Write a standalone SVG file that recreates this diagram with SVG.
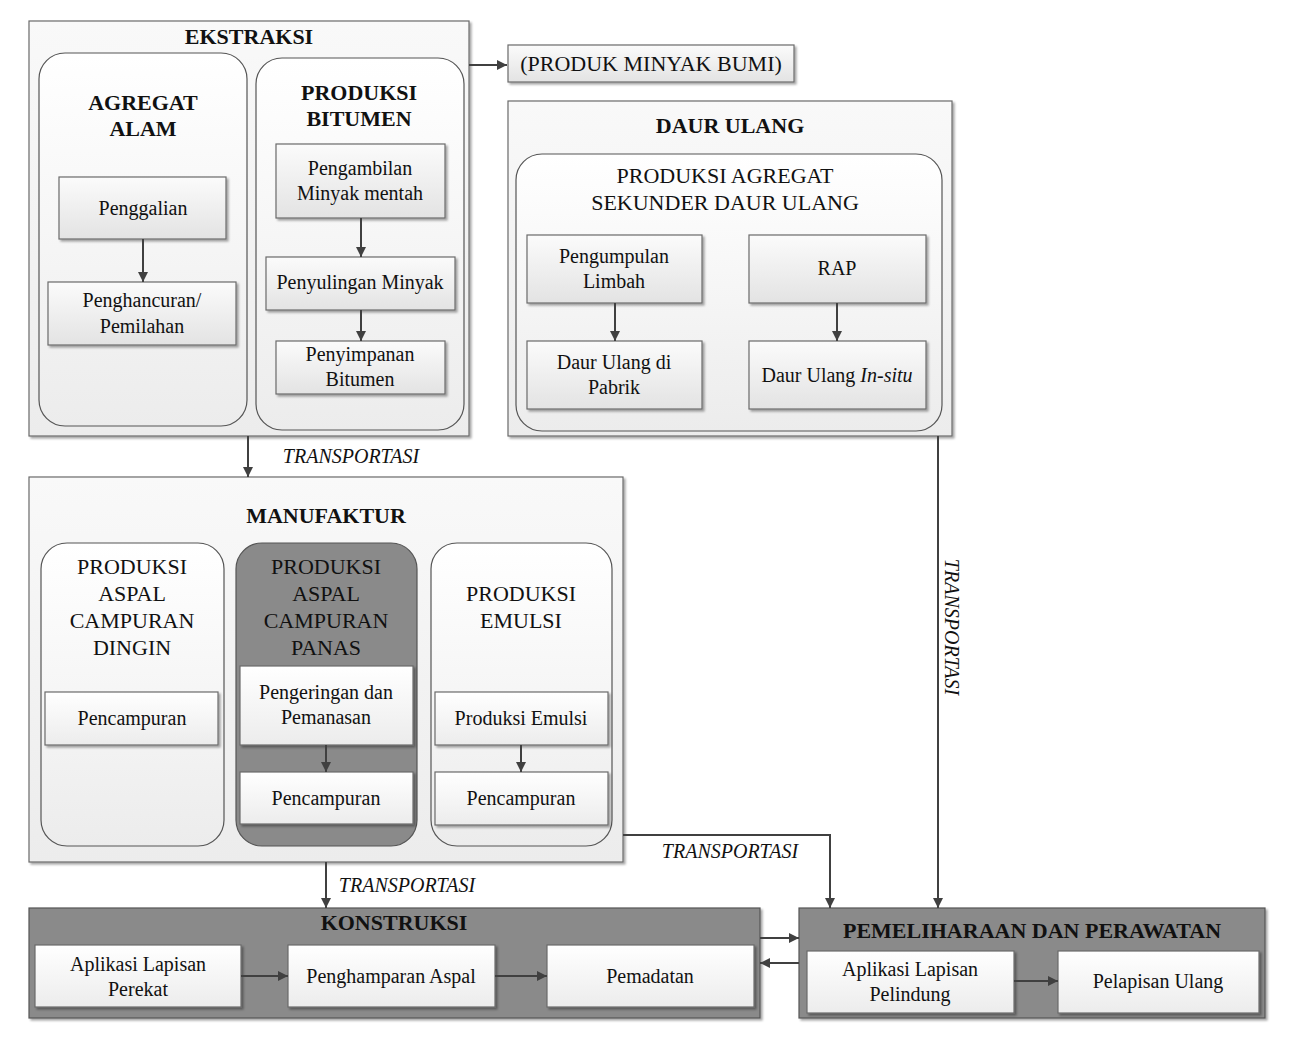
<svg xmlns="http://www.w3.org/2000/svg" width="1289" height="1046" viewBox="0 0 1289 1046">
<defs>
<linearGradient id="gFrame" x1="0" y1="0" x2="0" y2="1"><stop offset="0" stop-color="#f9f9f9"/><stop offset="1" stop-color="#ececec"/></linearGradient>
<linearGradient id="gRound" x1="0" y1="0" x2="0" y2="1"><stop offset="0" stop-color="#ffffff"/><stop offset="1" stop-color="#ececec"/></linearGradient>
<linearGradient id="gBox" x1="0" y1="0" x2="0" y2="1"><stop offset="0" stop-color="#fbfbfb"/><stop offset="1" stop-color="#e3e3e3"/></linearGradient>
<linearGradient id="gWhite" x1="0" y1="0" x2="0" y2="1"><stop offset="0" stop-color="#ffffff"/><stop offset="1" stop-color="#ececec"/></linearGradient>
<filter id="sh" x="-5%" y="-5%" width="115%" height="120%"><feDropShadow dx="2" dy="2" stdDeviation="1.2" flood-color="#000" flood-opacity="0.35"/></filter>
<marker id="ah" viewBox="0 0 10 10" refX="10" refY="5" markerWidth="10" markerHeight="10" markerUnits="userSpaceOnUse" orient="auto"><path d="M0,0 L10,5 L0,10 z" fill="#404040"/></marker>
</defs>
<style>
.frame{fill:url(#gFrame);stroke:#6b6b6b;stroke-width:1.2;filter:url(#sh)}
.dark{fill:#8a8a8a;stroke:#555;stroke-width:1.2;filter:url(#sh)}
.round{fill:url(#gRound);stroke:#555;stroke-width:1.2}
.rdark{fill:#8a8a8a;stroke:#555;stroke-width:1.2}
.box{fill:url(#gBox);stroke:#6b6b6b;stroke-width:1.2;filter:url(#sh)}
.wbox{fill:url(#gWhite);stroke:#6b6b6b;stroke-width:1.2;filter:url(#sh)}
text{font-family:"Liberation Serif","Times New Roman",serif;fill:#111;text-anchor:middle}
.t{font-size:22px;font-weight:bold}
.h{font-size:22px}
.n{font-size:20px}
.it{font-size:20px;font-style:italic}
.c{stroke:#404040;stroke-width:2;fill:none;marker-end:url(#ah)}
.l{stroke:#404040;stroke-width:2;fill:none}
</style>

<g id="ekstraksi">
<rect class="frame" x="29" y="21" width="440" height="415"/>
<text class="t" x="249" y="44">EKSTRAKSI</text>
</g>
<g id="agregat-alam">
<rect class="round" x="39" y="53" width="208" height="373" rx="26"/>
<text class="t" x="143" y="110">AGREGAT</text>
<text class="t" x="143" y="136">ALAM</text>
</g>
<g id="penggalian"><rect class="box" x="59" y="177" width="167" height="62"/><text class="n" x="143" y="215">Penggalian</text></g>
<g id="penghancuran"><rect class="box" x="48" y="282" width="188" height="63"/><text class="n" x="142" y="307">Penghancuran/</text><text class="n" x="142" y="333">Pemilahan</text></g>
<g id="produksi-bitumen">
<rect class="round" x="256" y="58" width="208" height="372" rx="26"/>
<text class="t" x="359" y="100">PRODUKSI</text>
<text class="t" x="359" y="126">BITUMEN</text>
</g>
<g id="pengambilan"><rect class="box" x="276" y="144" width="169" height="74"/><text class="n" x="360" y="175">Pengambilan</text><text class="n" x="360" y="200">Minyak mentah</text></g>
<g id="penyulingan"><rect class="box" x="266" y="257" width="189" height="53"/><text class="n" x="360" y="289">Penyulingan Minyak</text></g>
<g id="penyimpanan"><rect class="box" x="276" y="341" width="169" height="53"/><text class="n" x="360" y="361">Penyimpanan</text><text class="n" x="360" y="386">Bitumen</text></g>

<g id="produk-minyak-bumi"><rect class="box" x="508" y="45" width="286" height="37"/><text class="h" x="651" y="71">(PRODUK MINYAK BUMI)</text></g>

<g id="daur-ulang">
<rect class="frame" x="508" y="101" width="444" height="335"/>
<text class="t" x="730" y="133">DAUR ULANG</text>
</g>
<g id="produksi-agregat-sekunder">
<rect class="round" x="516" y="154" width="426" height="277" rx="26"/>
<text class="h" x="725" y="183">PRODUKSI AGREGAT</text>
<text class="h" x="725" y="210">SEKUNDER DAUR ULANG</text>
</g>
<g id="pengumpulan"><rect class="box" x="527" y="235" width="175" height="68"/><text class="n" x="614" y="263">Pengumpulan</text><text class="n" x="614" y="288">Limbah</text></g>
<g id="rap"><rect class="box" x="749" y="235" width="177" height="68"/><text class="n" x="837" y="275">RAP</text></g>
<g id="daur-pabrik"><rect class="box" x="527" y="341" width="175" height="68"/><text class="n" x="614" y="369">Daur Ulang di</text><text class="n" x="614" y="394">Pabrik</text></g>
<g id="daur-insitu"><rect class="box" x="749" y="341" width="177" height="68"/><text class="n" x="837" y="382">Daur Ulang <tspan font-style="italic">In-situ</tspan></text></g>

<g id="manufaktur">
<rect class="frame" x="29" y="477" width="594" height="385"/>
<text class="t" x="326" y="523">MANUFAKTUR</text>
</g>
<g id="campuran-dingin">
<rect class="round" x="41" y="543" width="183" height="303" rx="26"/>
<text class="h" x="132" y="574">PRODUKSI</text>
<text class="h" x="132" y="601">ASPAL</text>
<text class="h" x="132" y="628">CAMPURAN</text>
<text class="h" x="132" y="655">DINGIN</text>
</g>
<g id="pencampuran-dingin"><rect class="wbox" x="45" y="692" width="173" height="53"/><text class="n" x="132" y="725">Pencampuran</text></g>
<g id="campuran-panas">
<rect class="rdark" x="236" y="543" width="181" height="303" rx="26"/>
<text class="h" x="326" y="574">PRODUKSI</text>
<text class="h" x="326" y="601">ASPAL</text>
<text class="h" x="326" y="628">CAMPURAN</text>
<text class="h" x="326" y="655">PANAS</text>
</g>
<g id="pengeringan"><rect class="wbox" x="240" y="666" width="173" height="79"/><text class="n" x="326" y="699">Pengeringan dan</text><text class="n" x="326" y="724">Pemanasan</text></g>
<g id="pencampuran-panas"><rect class="wbox" x="240" y="772" width="173" height="52"/><text class="n" x="326" y="805">Pencampuran</text></g>
<g id="produksi-emulsi">
<rect class="round" x="431" y="543" width="181" height="303" rx="26"/>
<text class="h" x="521" y="601">PRODUKSI</text>
<text class="h" x="521" y="628">EMULSI</text>
</g>
<g id="produksi-emulsi-box"><rect class="wbox" x="435" y="692" width="173" height="53"/><text class="n" x="521" y="725">Produksi Emulsi</text></g>
<g id="pencampuran-emulsi"><rect class="wbox" x="435" y="772" width="173" height="53"/><text class="n" x="521" y="805">Pencampuran</text></g>

<g id="konstruksi">
<rect class="dark" x="29" y="908" width="731" height="110"/>
<text class="t" x="394" y="930">KONSTRUKSI</text>
</g>
<g id="aplikasi-perekat"><rect class="wbox" x="35" y="945" width="206" height="62"/><text class="n" x="138" y="971">Aplikasi Lapisan</text><text class="n" x="138" y="996">Perekat</text></g>
<g id="penghamparan"><rect class="wbox" x="288" y="945" width="207" height="62"/><text class="n" x="391" y="983">Penghamparan Aspal</text></g>
<g id="pemadatan"><rect class="wbox" x="547" y="945" width="207" height="62"/><text class="n" x="650" y="983">Pemadatan</text></g>

<g id="pemeliharaan">
<rect class="dark" x="799" y="908" width="466" height="110"/>
<text class="t" x="1032" y="938">PEMELIHARAAN DAN PERAWATAN</text>
</g>
<g id="aplikasi-pelindung"><rect class="wbox" x="807" y="951" width="207" height="62"/><text class="n" x="910" y="976">Aplikasi Lapisan</text><text class="n" x="910" y="1001">Pelindung</text></g>
<g id="pelapisan-ulang"><rect class="wbox" x="1058" y="951" width="201" height="62"/><text class="n" x="1158" y="988">Pelapisan Ulang</text></g>

<g id="connectors">
<line class="c" x1="143" y1="239" x2="143" y2="282"/>
<line class="c" x1="361" y1="218" x2="361" y2="257"/>
<line class="c" x1="361" y1="310" x2="361" y2="341"/>
<line class="c" x1="469" y1="65" x2="507" y2="65"/>
<line class="c" x1="615" y1="303" x2="615" y2="341"/>
<line class="c" x1="837" y1="303" x2="837" y2="341"/>
<line class="c" x1="248" y1="436" x2="248" y2="477"/>
<text class="it" x="351" y="463">TRANSPORTASI</text>
<line class="c" x1="326" y1="745" x2="326" y2="772"/>
<line class="c" x1="521" y1="745" x2="521" y2="772"/>
<line class="c" x1="326" y1="862" x2="326" y2="908"/>
<text class="it" x="407" y="892">TRANSPORTASI</text>
<polyline class="c" points="623,835 830,835 830,908"/>
<text class="it" x="730" y="858">TRANSPORTASI</text>
<line class="c" x1="938" y1="436" x2="938" y2="908"/>
<text class="it" transform="translate(945,627) rotate(90)" x="0" y="0">TRANSPORTASI</text>
<line class="c" x1="241" y1="976" x2="288" y2="976"/>
<line class="c" x1="495" y1="976" x2="547" y2="976"/>
<line class="c" x1="760" y1="938" x2="799" y2="938"/>
<line class="c" x1="799" y1="963" x2="760" y2="963"/>
<line class="c" x1="1014" y1="981" x2="1058" y2="981"/>
</g>
</svg>
